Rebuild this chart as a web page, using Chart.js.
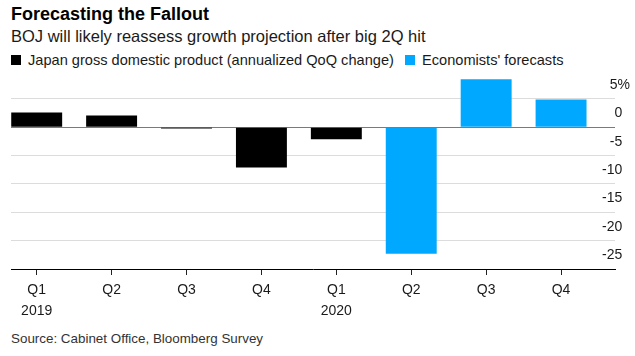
<!DOCTYPE html>
<html>
<head>
<meta charset="utf-8">
<script src="https://cdn.jsdelivr.net/npm/chart.js@4/dist/chart.umd.min.js"></script>
<style>
  html, body { margin: 0; padding: 0; background: #fff; }
  body { width: 635px; height: 356px; position: relative; overflow: hidden; font-family: "Liberation Sans", Arial, sans-serif; }
  .t { position: absolute; white-space: nowrap; }
  #title { left: 11px; top: 3px; font-size: 18px; font-weight: bold; line-height: 22px; color: #000; }
  #subtitle { left: 11px; top: 25px; font-size: 16.5px; line-height: 22px; color: #1a1a1a; }
  #legend { left: 0; top: 51px; height: 18px; width: 635px; font-size: 14.6px; line-height: 18px; color: #1a1a1a; }
  .sw { position: absolute; top: 4px; width: 10px; height: 10px; }
  .lt { position: absolute; top: 0; }
  #source { left: 11px; top: 330px; font-size: 13.4px; line-height: 18px; color: #333; }
  #wrap { position: absolute; left: 0; top: 70px; width: 635px; height: 257px; }
</style>
</head>
<body>
<div id="title" class="t">Forecasting the Fallout</div>
<div id="subtitle" class="t">BOJ will likely reassess growth projection after big 2Q hit</div>
<div id="legend" class="t"></div>
<div id="wrap"><canvas id="c"></canvas></div>
<div id="source" class="t">Source: Cabinet Office, Bloomberg Survey</div>
<script>
// ---- data ----
const quarterLabels = ["Q1", "Q2", "Q3", "Q4", "Q1", "Q2", "Q3", "Q4"];
const yearLabels = ["2019", "", "", "", "2020", "", "", ""];
const gdpActual = [2.6, 2.1, -0.2, -7.1, -2.1, null, null, null];
const gdpForecast = [null, null, null, null, null, -22.3, 8.5, 4.9];
const yTicks = [-25, -20, -15, -10, -5, 0, 5];
const seriesNames = ["Japan gross domestic product (annualized QoQ change)", "Economists' forecasts"];
const seriesColors = ["#000000", "#00a9ff"];

// ---- legend (HTML) ----
const legendPos = [[11, 28], [405, 422]];
const lg = document.getElementById('legend');
seriesNames.forEach((n, i) => {
  const s = document.createElement('div');
  s.className = 'sw'; s.style.left = legendPos[i][0] + 'px'; s.style.background = seriesColors[i];
  lg.appendChild(s);
  const t = document.createElement('div');
  t.className = 'lt'; t.style.left = legendPos[i][1] + 'px'; t.textContent = n;
  lg.appendChild(t);
});

function toPoints(arr) {
  const out = [];
  arr.forEach((v, i) => { if (v !== null) out.push({ x: i, y: v }); });
  return out;
}

new Chart(document.getElementById('c'), {
  type: 'bar',
  data: {
    datasets: [
      { label: seriesNames[0], data: toPoints(gdpActual), backgroundColor: seriesColors[0], grouped: false,
        categoryPercentage: 1, barPercentage: 0.68 },
      { label: seriesNames[1], data: toPoints(gdpForecast), backgroundColor: seriesColors[1], grouped: false,
        categoryPercentage: 1, barPercentage: 0.68 }
    ]
  },
  options: {
    responsive: true,
    maintainAspectRatio: false,
    animation: false,
    layout: { padding: { left: 11, right: 20, top: 8, bottom: 0 } },
    plugins: { legend: { display: false }, tooltip: { enabled: false } },
    scales: {
      x: {
        type: 'linear',
        offset: false,
        min: -0.343,
        max: 7.72,
        afterBuildTicks: (s) => { s.ticks = quarterLabels.map((_, i) => ({ value: i })); },
        ticks: {
          autoSkip: false,
          maxRotation: 0,
          padding: 5,
          color: '#1a1a1a',
          font: { family: '"Liberation Sans", Arial, sans-serif', size: 14, lineHeight: 1.5 },
          callback: (v) => yearLabels[v] ? [quarterLabels[v], yearLabels[v]] : quarterLabels[v]
        },
        grid: { display: true, offset: false, drawOnChartArea: false, drawTicks: true, tickLength: 6, color: '#222', lineWidth: 1 },
        border: { display: true, color: '#000', width: 1 }
      },
      y: {
        position: 'right',
        min: -25,
        max: 8.7,
        afterBuildTicks: (s) => { s.ticks = yTicks.map(v => ({ value: v })); },
        afterFit: (s) => { s.width = 0; s.paddingTop = 0; s.paddingBottom = 0; },
        ticks: {
          mirror: true,
          padding: 15,
          crossAlign: 'near',
          labelOffset: -14,
          color: '#1a1a1a',
          font: { family: '"Liberation Sans", Arial, sans-serif', size: 14 },
          callback: (v) => v === 5 ? '5%' : v + '  '
        },
        grid: {
          drawTicks: false,
          color: (ctx) => (ctx.tick && ctx.tick.value === 0) ? '#7a7a7a' : '#dcdcdc',
          lineWidth: 1
        },
        border: { display: false }
      }
    }
  }
});
</script>
</body>
</html>
